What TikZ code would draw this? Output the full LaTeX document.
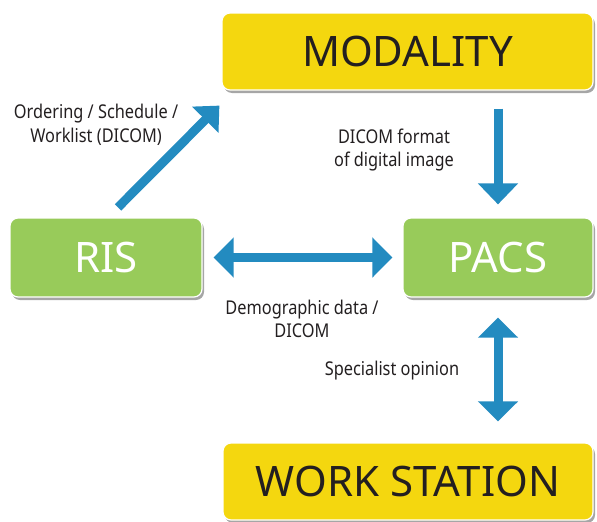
\documentclass[tikz,border=0pt]{standalone}
\usepackage{fontspec}
\setmainfont{Noto Sans}
\newfontfamily\lblfont{Noto Sans}[FakeStretch=0.86]
\usepackage{xcolor}
\usepackage{tikz}
\usetikzlibrary{arrows.meta, shadows}
\definecolor{kyellow}{HTML}{F4D70F}
\definecolor{kgreen}{HTML}{98CB5A}
\definecolor{kblue}{HTML}{238BC0}
\definecolor{kink}{HTML}{231F20}

\tikzset{
  sysbox/.style={rounded corners=8pt, draw=white, line width=1.2pt,
    drop shadow={shadow xshift=2pt, shadow yshift=-3pt, fill=black!35, opacity=1},
    font=\fontsize{42}{50}\selectfont, inner sep=0pt},
  bigarrow/.style={kblue, line width=9pt},
  lbl/.style={font=\lblfont\fontsize{19}{23.5}\selectfont, text=kink, align=center}
}

\begin{document}
\begin{tikzpicture}[x=1pt, y=-1pt]
\useasboundingbox (0,0) rectangle (597,522);
% systems
\node[sysbox, fill=kyellow, text=kink, minimum width=371pt, minimum height=77pt]
  (mod) at (407.5,51.5) {MODALITY};
\node[sysbox, fill=kgreen, text=white, minimum width=192pt, minimum height=79pt]
  (ris) at (106,257.5) {RIS};
\node[sysbox, fill=kgreen, text=white, minimum width=190pt, minimum height=79pt]
  (pacs) at (498,257.5) {PACS};
\node[sysbox, fill=kyellow, text=kink, minimum width=370pt, minimum height=77pt]
  (ws) at (408,481.5) {WORK STATION};
% flows
\coordinate (ordtip) at ([shift={(-2,15)}]mod.south west);
\draw[bigarrow, -{Triangle[width=36pt, length=20pt]}]
  ([shift={(12,-10)}]ris.north) -- (ordtip);
\draw[bigarrow, -{Triangle[width=39pt, length=21pt]}, shorten <=18pt, shorten >=13pt]
  (pacs.north |- mod.south) -- (pacs.north);
\draw[bigarrow, {Triangle[width=39pt, length=20pt]}-{Triangle[width=39pt, length=20pt]},
  shorten <=11pt, shorten >=10pt] (ris.east) -- (pacs.west);
\draw[bigarrow, {Triangle[width=39pt, length=20pt]}-{Triangle[width=39pt, length=20pt]},
  shorten <=20pt, shorten >=21pt] (pacs.south) -- (pacs.south |- ws.north);
% labels
\node[lbl] (ordlbl) at (96,125) {Ordering / Schedule /\\Worklist (DICOM)};
\node[lbl] (dicomlbl) at (394,150) {DICOM format\\of digital image};
\node[lbl] (demolbl) at (302,319) {Demographic data /\\DICOM};
\node[lbl] (speclbl) at (392,371) {Specialist opinion};
\end{tikzpicture}
\end{document}
